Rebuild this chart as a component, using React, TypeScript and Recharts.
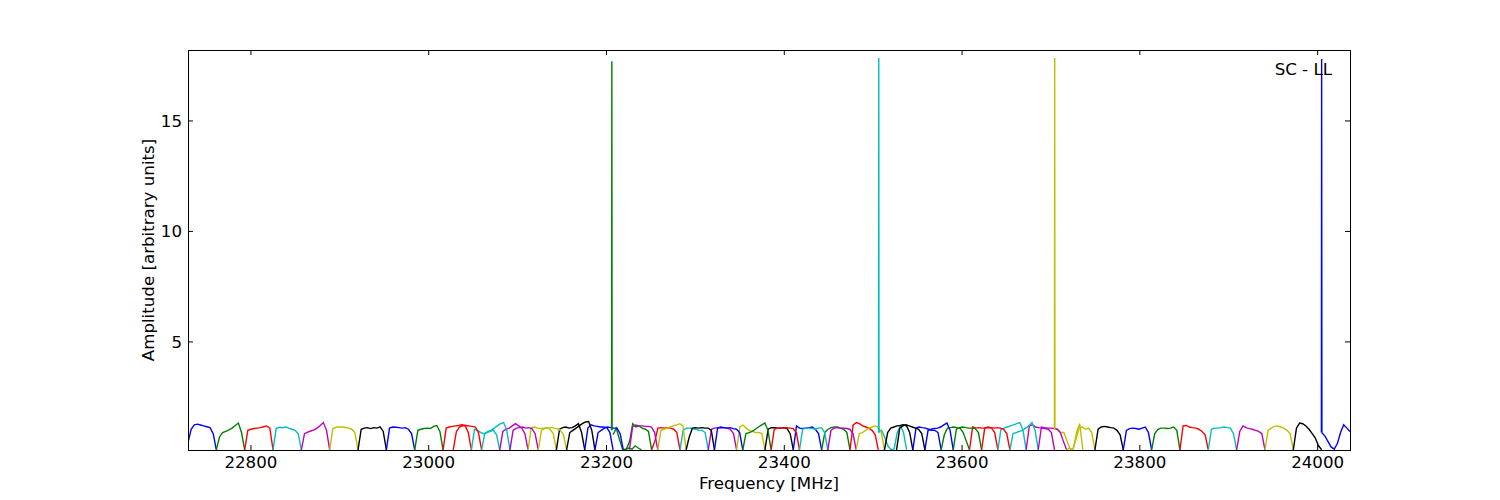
import { LineChart, Line, XAxis, YAxis } from "recharts";

// matplotlib classic colour cycle: b g r c m y k
const COLORS = ["#0000ff", "#008000", "#ff0000", "#00bfbf", "#bf00bf", "#bfbf00", "#000000"];

const SPW_WIDTH = 31.88; // MHz per sub-band
const N_CHAN = 10;

// first sub-band of each baseband [MHz]
const bandStarts = [22729.2, 23027.6, 23225.8, 23526.3];

// amplitudes per sub-band (10 channels each)
const bandA = [
  [0.45, 1.05, 1.25, 1.28, 1.24, 1.2, 1.16, 1.12, 0.85, 0.12],
  [0.12, 0.7, 0.9, 0.95, 1.02, 1.1, 1.22, 1.33, 0.9, 0.12],
  [0.12, 1.0, 1.05, 1.08, 1.1, 1.12, 1.16, 1.2, 1.1, 0.12],
  [0.12, 1.08, 1.14, 1.12, 1.15, 1.1, 1.05, 1.0, 0.85, 0.12],
  [0.12, 0.85, 0.92, 0.97, 1.02, 1.1, 1.22, 1.35, 1.0, 0.12],
  [0.12, 1.08, 1.14, 1.15, 1.15, 1.13, 1.1, 1.05, 0.9, 0.12],
  [0.12, 1.05, 1.1, 1.12, 1.08, 1.12, 1.1, 1.16, 0.95, 0.12],
  [0.12, 1.1, 1.15, 1.14, 1.12, 1.1, 1.12, 1.05, 0.85, 0.12],
  [0.12, 1.0, 1.05, 1.08, 1.1, 1.08, 1.18, 1.22, 0.95, 0.12],
  [0.12, 1.1, 1.15, 1.18, 1.2, 1.22, 1.25, 1.22, 0.9, 0.12],
  [0.12, 1.05, 1.0, 0.9, 0.85, 0.9, 0.95, 1.0, 0.8, 0.12],
  [0.12, 0.95, 1.05, 1.1, 1.2, 1.3, 1.2, 1.1, 0.85, 0.12],
  [0.12, 1.12, 1.15, 1.1, 1.08, 1.1, 1.12, 1.05, 0.85, 0.12],
  [0.12, 1.05, 1.12, 1.15, 1.1, 1.12, 1.2, 1.3, 0.9, 0.12],
  [0.12, 1.1, 1.25, 1.2, 1.18, 1.15, 1.15, 1.12, 0.9, 0.12],
  [0.8, 1.1, 0.6, 0.15, 0.13, 0.2, 0.15, 0.3, 0.2, 0.12],
];

const bandB = [
  [0.12, 0.95, 1.15, 1.2, 1.22, 1.2, 1.18, 1.15, 0.9, 0.12],
  [0.12, 0.85, 0.95, 1.0, 1.1, 1.2, 1.3, 1.35, 1.0, 0.12],
  [0.12, 1.0, 1.1, 1.12, 1.15, 1.1, 1.12, 1.08, 0.85, 0.12],
  [0.12, 1.0, 1.08, 1.1, 1.12, 1.1, 1.08, 1.0, 0.8, 0.12],
  [0.12, 0.9, 1.0, 1.1, 1.2, 1.3, 1.38, 1.4, 1.0, 0.12],
  [0.12, 0.9, 1.0, 1.1, 1.15, 1.12, 1.1, 1.1, 0.85, 0.12],
  [0.12, 0.15, 0.5, 1.3, 1.15, 1.2, 1.1, 1.05, 0.95, 0.12],
  [0.12, 0.5, 1.1, 1.12, 1.1, 1.12, 1.1, 1.05, 0.9, 0.12],
  [0.12, 1.0, 1.1, 1.1, 1.08, 1.05, 1.0, 1.0, 0.9, 0.12],
  [0.12, 1.05, 1.1, 1.12, 1.1, 1.12, 1.1, 1.05, 0.85, 0.12],
  [0.12, 1.15, 1.24, 1.1, 1.0, 0.95, 0.9, 0.9, 0.85, 0.12],
  [0.12, 1.05, 1.12, 1.12, 1.1, 1.1, 1.12, 1.08, 0.85, 0.12],
  [0.12, 1.2, 1.1, 1.08, 1.1, 1.12, 1.15, 1.05, 0.85, 0.12],
  [0.12, 0.9, 1.05, 1.12, 1.15, 1.15, 1.1, 1.05, 0.9, 0.12],
  [0.12, 1.25, 1.35, 1.3, 1.2, 1.15, 1.1, 1.0, 0.8, 0.12],
  [0.9, 1.0, 0.7, 0.3, 0.13, 0.15, 0.9, 1.2, 0.9, 0.12],
];

const bandC = [
  [0.12, 1.15, 1.24, 1.2, 1.2, 1.18, 1.18, 1.15, 0.9, 0.12],
  [0.12, 1.0, 1.05, 1.1, 1.15, 1.2, 1.25, 1.3, 1.2, 0.12],
  [0.12, 0.7, 1.1, 1.12, 1.1, 1.12, 1.1, 1.1, 1.0, 0.12],
  [0.12, 1.1, 1.15, 1.12, 1.1, 1.12, 1.08, 1.05, 0.9, 0.12],
  [0.12, 0.85, 0.9, 0.95, 1.05, 1.15, 1.25, 1.33, 1.0, 0.12],
  [0.12, 1.05, 1.1, 1.12, 1.1, 1.12, 1.1, 1.08, 0.9, 0.12],
  [0.12, 1.05, 1.1, 1.1, 1.08, 1.05, 1.1, 1.12, 0.9, 0.12],
  [0.12, 1.0, 1.1, 1.12, 1.1, 1.1, 1.08, 1.05, 0.85, 0.12],
  [0.12, 0.85, 0.9, 1.0, 1.1, 1.15, 1.2, 1.15, 0.9, 0.12],
  [0.12, 0.9, 1.1, 1.15, 1.2, 1.22, 1.25, 1.2, 0.9, 0.12],
  [0.12, 1.1, 1.15, 1.12, 1.1, 1.05, 1.0, 1.0, 0.9, 0.12],
  [0.12, 0.8, 1.1, 1.12, 1.15, 1.12, 1.1, 0.9, 0.5, 0.12],
  [0.12, 1.15, 1.1, 1.12, 1.1, 1.1, 1.12, 1.1, 0.9, 0.12],
  [0.12, 1.05, 1.1, 1.15, 1.2, 1.25, 1.3, 1.35, 1.0, 0.12],
  [0.12, 1.2, 1.25, 1.15, 1.12, 1.1, 1.08, 1.05, 0.9, 0.12],
  [1.1, 1.05, 0.9, 0.9, 0.5, 0.13, 0.2, 0.9, 1.3, 0.12],
];

const bandD = [
  [0.12, 1.1, 1.2, 1.25, 1.2, 1.15, 1.1, 1.05, 0.85, 0.12],
  [0.12, 1.0, 1.05, 1.08, 1.1, 1.15, 1.25, 1.33, 1.0, 0.12],
  [0.12, 1.05, 1.12, 1.15, 1.12, 1.1, 1.1, 1.08, 0.9, 0.12],
  [0.12, 1.1, 1.15, 1.12, 1.1, 1.12, 1.1, 1.05, 0.85, 0.12],
  [0.12, 0.85, 0.9, 0.95, 1.0, 1.1, 1.2, 1.35, 1.0, 0.12],
  [0.12, 1.15, 1.12, 1.1, 1.1, 1.08, 1.05, 0.9, 0.5, 0.12],
  [0.12, 0.2, 0.13, 0.6, 1.1, 1.15, 1.05, 1.1, 0.9, 0.12],
  [0.12, 1.05, 1.15, 1.18, 1.15, 1.12, 1.1, 1.0, 0.8, 0.12],
  [0.12, 1.0, 1.08, 1.1, 1.08, 1.05, 1.1, 1.15, 0.9, 0.12],
  [0.12, 0.85, 1.05, 1.1, 1.1, 1.08, 1.1, 1.15, 1.0, 0.12],
  [0.12, 1.2, 1.22, 1.15, 1.12, 1.1, 1.05, 0.95, 0.8, 0.12],
  [0.12, 1.05, 1.1, 1.1, 1.12, 1.15, 1.12, 1.1, 0.85, 0.12],
  [0.12, 0.95, 1.2, 1.12, 1.08, 1.05, 1.0, 0.95, 0.85, 0.12],
  [0.12, 1.0, 1.1, 1.18, 1.2, 1.15, 1.1, 1.0, 0.85, 0.12],
  [0.12, 1.1, 1.33, 1.3, 1.2, 1.05, 0.85, 0.65, 0.3, 0.12],
  [0.9, 0.75, 0.5, 0.25, 0.15, 0.4, 0.9, 1.25, 1.1, 0.95],
];

// narrow lines at the start of the last sub-band of each baseband
const spikeFreqs = [23206.0, 23506.3, 23704.2, 24004.5];
const spikePeaks = [17.7, 17.85, 17.85, 17.8];
const spikeBase = [1.0, 0.9, 1.05, 0.9];
const spikeColors = ["#008000", "#00bfbf", "#bfbf00", "#0000ff"];

const xTicks = [22800, 23000, 23200, 23400, 23600, 23800, 24000];
const yTicks = [5, 10, 15];
const xDomain = [22729.2, 24036.4];
const yDomain = [0.11, 18.21];

const FONT = "DejaVu Sans, sans-serif";
const FS = 16.67;

const bands = [bandA, bandB, bandC, bandD];
const windows: { data: { f: number; a: number }[]; color: string }[] = [];
bands.forEach((rows, b) => {
  rows.forEach((vals, j) => {
    const f0 = bandStarts[b] + j * SPW_WIDTH;
    windows.push({
      data: vals.map((a, i) => ({ f: f0 + (i * SPW_WIDTH) / (N_CHAN - 1), a })),
      color: COLORS[windows.length % 7],
    });
  });
});

const spikes = spikeFreqs.map((f, i) => ({
  color: spikeColors[i],
  data: [
    { f: f - 0.3, a: spikeBase[i] },
    { f, a: spikePeaks[i] },
    { f: f + 0.3, a: spikeBase[i] },
  ],
}));

const XTick = ({ x, payload }: any) => (
  <g>
    <line x1={x} x2={x} y1={450} y2={445} stroke="#000" strokeWidth={1} />
    <line x1={x} x2={x} y1={50} y2={55} stroke="#000" strokeWidth={1} />
    <text x={x} y={468} textAnchor="middle" fontFamily={FONT} fontSize={FS} fill="#000">
      {payload.value}
    </text>
  </g>
);

const YTick = ({ y, payload }: any) => (
  <g>
    <line x1={188} x2={193} y1={y} y2={y} stroke="#000" strokeWidth={1} />
    <line x1={1350} x2={1345} y1={y} y2={y} stroke="#000" strokeWidth={1} />
    <text x={182} y={y + 6} textAnchor="end" fontFamily={FONT} fontSize={FS} fill="#000">
      {payload.value}
    </text>
  </g>
);

export default function App() {
  return (
    <div style={{ position: "absolute", left: 0, top: 0, width: 1500, height: 500, background: "#fff" }}>
      <LineChart width={1500} height={500} margin={{ top: 50, right: 150, bottom: 0, left: 0 }}>
        <XAxis
          type="number"
          dataKey="f"
          domain={xDomain}
          ticks={xTicks}
          interval={0}
          allowDataOverflow
          height={50}
          axisLine={false}
          tickLine={false}
          tick={<XTick />}
        />
        <YAxis
          type="number"
          domain={yDomain}
          ticks={yTicks}
          interval={0}
          allowDataOverflow
          width={188}
          axisLine={false}
          tickLine={false}
          tick={<YTick />}
        />
        {windows.map((w, i) => (
          <Line
            key={"w" + i}
            data={w.data}
            dataKey="a"
            type="linear"
            stroke={w.color}
            strokeWidth={1.4}
            dot={false}
            activeDot={false}
            isAnimationActive={false}
          />
        ))}
        {spikes.map((s, i) => (
          <Line
            key={"s" + i}
            data={s.data}
            dataKey="a"
            type="linear"
            stroke={s.color}
            strokeWidth={1.4}
            dot={false}
            activeDot={false}
            isAnimationActive={false}
          />
        ))}
      </LineChart>
      <svg
        width={1500}
        height={500}
        style={{ position: "absolute", left: 0, top: 0, pointerEvents: "none" }}
      >
        <rect x={188.5} y={50.5} width={1162} height={400} fill="none" stroke="#000" strokeWidth={1} />
        <text x={1332} y={75} textAnchor="end" fontFamily={FONT} fontSize={FS} fill="#000">
          SC - LL
        </text>
        <text x={769} y={489} textAnchor="middle" fontFamily={FONT} fontSize={FS} fill="#000">
          Frequency [MHz]
        </text>
        <text
          x={154}
          y={250}
          textAnchor="middle"
          fontFamily={FONT}
          fontSize={FS}
          fill="#000"
          transform="rotate(-90 154 250)"
        >
          Amplitude [arbitrary units]
        </text>
      </svg>
    </div>
  );
}
